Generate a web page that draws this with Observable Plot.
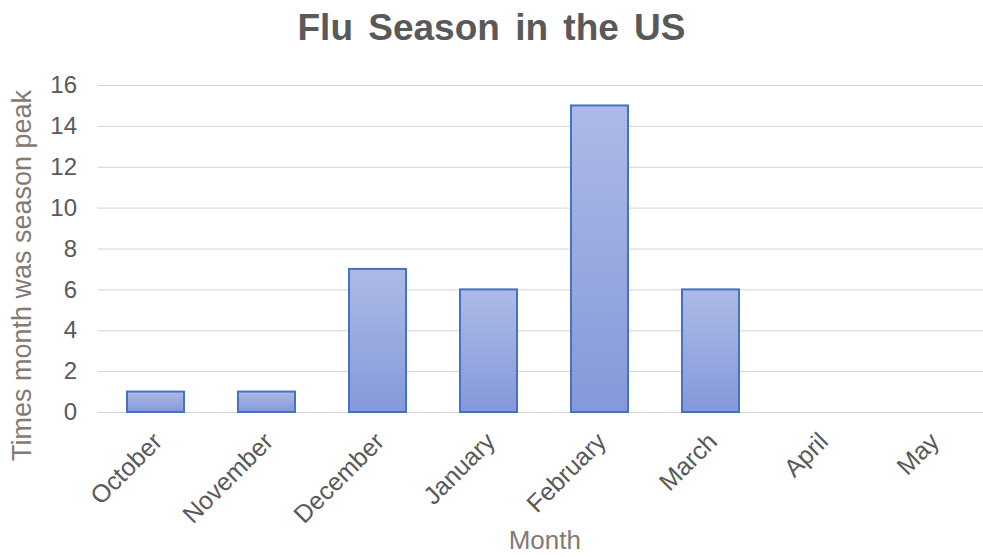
<!DOCTYPE html>
<html>
<head>
<meta charset="utf-8">
<script src="https://cdn.jsdelivr.net/npm/d3@7"></script>
<script src="https://cdn.jsdelivr.net/npm/@observablehq/plot@0.6"></script>
<style>
  html, body { margin: 0; padding: 0; background: #fff; }
  #wrap { position: relative; width: 983px; height: 557px; overflow: hidden; font-family: "Liberation Sans", Arial, sans-serif; }
  #title { position: absolute; left: 0; top: 9px; width: 983px; text-align: center; font-size: 37px; line-height: 37px; font-weight: bold; color: #595959; word-spacing: 5px; }
  #chart { position: absolute; left: 0; top: 60px; }
</style>
</head>
<body>
<div id="wrap">
  <div id="title">Flu Season in the US</div>
  <div id="chart"></div>
</div>
<script>
const months = ["October", "November", "December", "January", "February", "March", "April", "May"];
const peaks = [1, 1, 7, 6, 15, 6, 0, 0];
const yTicks = [0, 2, 4, 6, 8, 10, 12, 14, 16];
const yLabel = "Times month was season peak";
const xLabel = "Month";

const data = months.map((m, i) => ({month: m, value: peaks[i]}));
const barsData = data.filter(d => d.value > 0);

const plot = Plot.plot({
  width: 983,
  height: 497,
  marginTop: 25,
  marginBottom: 145,
  marginLeft: 97.5,
  marginRight: 0,
  style: {fontFamily: "Liberation Sans, Arial, sans-serif", background: "transparent"},
  x: {domain: months, range: [98.25, 990.25], paddingInner: 0.49, paddingOuter: 0.245},
  y: {domain: [0, 16]},
  marks: [
    Plot.gridY(yTicks, {stroke: "#d4d4d4", strokeOpacity: 1, strokeWidth: 1}),
    Plot.axisY(yTicks, {tickSize: 0, tickPadding: 21, fontSize: 24, fill: "#595959", label: null}),
    Plot.axisX(months, {tickSize: 0, tickRotate: -45, tickPadding: 8, dx: 2, dy: 17, fontSize: 25, fill: "#595959", label: null}),
    Plot.barY(barsData, {x: "month", y: "value", fill: "url(#barGrad)", stroke: "#4472c4", strokeWidth: 2}),
    Plot.text([yLabel], {text: d => d, frameAnchor: "left", dx: -75.5, dy: 26.5, rotate: -90, fontSize: 27, fill: "#847a74", textAnchor: "middle"}),
    Plot.text([xLabel], {text: d => d, frameAnchor: "bottom", dx: 4, dy: 136, fontSize: 26, fill: "#847a74", textAnchor: "middle"})
  ]
});

const ns = "http://www.w3.org/2000/svg";
const defs = document.createElementNS(ns, "defs");
const grad = document.createElementNS(ns, "linearGradient");
grad.setAttribute("id", "barGrad");
grad.setAttribute("x1", "0"); grad.setAttribute("y1", "0");
grad.setAttribute("x2", "0"); grad.setAttribute("y2", "1");
[["0%", "#adbae6"], ["100%", "#8499da"]].forEach(([o, c]) => {
  const s = document.createElementNS(ns, "stop");
  s.setAttribute("offset", o);
  s.setAttribute("stop-color", c);
  grad.appendChild(s);
});
defs.appendChild(grad);
plot.insertBefore(defs, plot.firstChild);

document.getElementById("chart").appendChild(plot);
</script>
</body>
</html>
